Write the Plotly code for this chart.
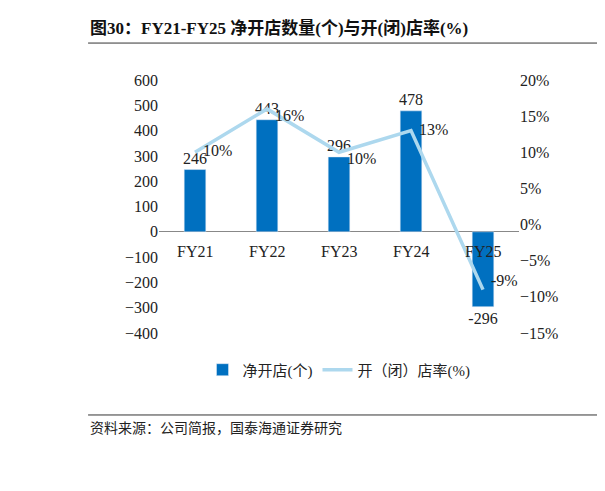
import plotly.graph_objects as go

categories = ["FY21", "FY22", "FY23", "FY24", "FY25"]
net_stores = [246, 443, 296, 478, -296]
open_rate = [10, 16, 10, 13, -9]
rate_labels = ["10%", "16%", "10%", "13%", "-9%"]

serif = "Liberation Serif, Noto Sans CJK SC"
bar_color = "#0070C0"
line_color = "#ADD8EE"

fig = go.Figure()
fig.add_trace(go.Bar(
    x=categories, y=net_stores, name="净开店(个)",
    marker_color=bar_color, width=0.3,
    text=[str(v) for v in net_stores], textposition="outside", constraintext="none",
    textfont=dict(family=serif, size=16, color="#222"), cliponaxis=False,
))
fig.add_trace(go.Scatter(
    x=categories, y=open_rate, name="开（闭）店率(%)", yaxis="y2",
    mode="lines+text", line=dict(color=line_color, width=3.5),
    text=["  " + t for t in rate_labels],
    textposition=["middle right", "bottom right", "bottom right", "middle right", "top right"],
    textfont=dict(family=serif, size=16, color="#222"), cliponaxis=False,
))

# category labels sit just under the zero line
for c in categories:
    fig.add_annotation(x=c, y=0, yref="y", text=c, showarrow=False, yshift=-20,
                       font=dict(family=serif, size=16, color="#222"))

fig.add_annotation(x=-0.197, y=1.206, xref="paper", yref="paper", xanchor="left", yanchor="middle",
                   text="<b>图30：FY21-FY25 净开店数量(个)与开(闭)店率(%)</b>",
                   showarrow=False, font=dict(family=serif, size=17, color="#111"))
fig.add_annotation(x=-0.197, y=-0.375, xref="paper", yref="paper", xanchor="left", yanchor="middle",
                   text="资料来源：公司简报，国泰海通证券研究", showarrow=False,
                   font=dict(family=serif, size=14, color="#222"))
fig.add_shape(type="line", xref="paper", yref="paper", x0=-0.197, x1=1.219, y0=1.146, y1=1.146,
              line=dict(color="#333", width=1))
fig.add_shape(type="line", xref="paper", yref="paper", x0=-0.197, x1=1.219, y0=-0.324, y1=-0.324,
              line=dict(color="#333", width=1))

fig.update_layout(
    width=605, height=491, paper_bgcolor="white", plot_bgcolor="white",
    margin=dict(l=151, r=94, t=72, b=166),
    font=dict(family=serif, size=16, color="#222"),
    showlegend=True,
    legend=dict(orientation="h", x=0.5, xanchor="center", y=-0.146, yanchor="middle",
                font=dict(family=serif, size=15)),
    xaxis=dict(showticklabels=False, showline=False, showgrid=False, fixedrange=True),
    yaxis=dict(range=[-400, 600], dtick=100, showgrid=False, zeroline=True,
               zerolinecolor="#888", zerolinewidth=1, tickfont=dict(size=16)),
    yaxis2=dict(range=[-15, 20], dtick=5, overlaying="y", side="right", showgrid=False,
                zeroline=False, ticksuffix="%", tickfont=dict(size=16)),
)

fig.write_html("out.html")
